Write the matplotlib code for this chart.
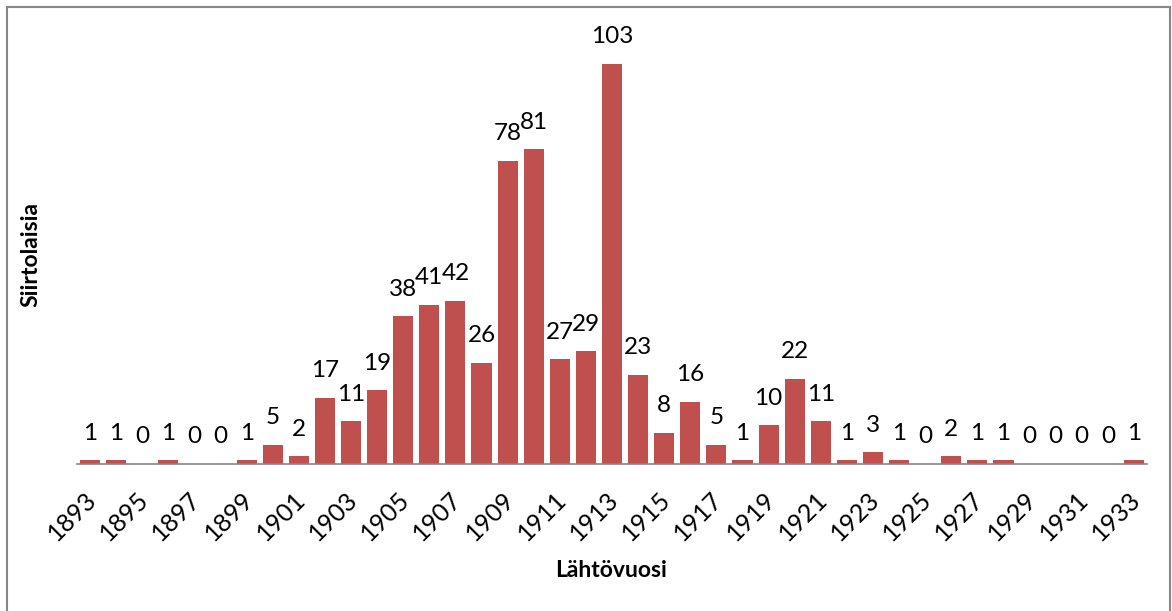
import numpy as np
import matplotlib
matplotlib.use("Agg")
import matplotlib.pyplot as plt
from matplotlib.patches import Rectangle
from matplotlib.transforms import ScaledTranslation

years = list(range(1893, 1934))
counts = [1, 1, 0, 1, 0, 0, 1, 5, 2, 17, 11, 19, 38, 41, 42, 26, 78, 81, 27, 29,
          103, 23, 8, 16, 5, 1, 10, 22, 11, 1, 3, 1, 0, 2, 1, 1, 0, 0, 0, 0, 1]
bar_color = "#C0504D"

plt.rcParams["font.family"] = ["Lato", "DejaVu Sans"]

fig = plt.figure(figsize=(11.72, 6.11), dpi=100)
ax = fig.add_axes([0.0657, 0.2406, 0.913, 0.712])

x = np.arange(len(years))
ax.bar(x, counts, width=0.77, color=bar_color, zorder=2)
for xi, v in zip(x, counts):
    ax.annotate(str(v), (xi, v), xytext=(0, 19.5), textcoords="offset points",
                ha="center", va="center", fontsize=17.5, color="black")

ax.set_xlim(-0.5, len(years) - 0.5)
ax.set_ylim(0, 112)
ax.set_xticks(x[::2])
ax.set_xticklabels([str(y) for y in years[::2]], rotation=45, ha="right",
                   rotation_mode="anchor", fontsize=18)
ax.tick_params(axis="x", length=0, pad=17)
shift = ScaledTranslation(-4 / 72, 0, fig.dpi_scale_trans)
for lbl in ax.get_xticklabels():
    lbl.set_transform(lbl.get_transform() + shift)
ax.set_yticks([])
for s in ["top", "right", "left"]:
    ax.spines[s].set_visible(False)
ax.spines["bottom"].set_color("#868686")
ax.spines["bottom"].set_linewidth(1.2)

fig.text(0.521, 0.0655, "Lähtövuosi", ha="center", va="center",
         fontsize=16.5, fontweight="bold")
fig.text(0.0265, 0.583, "Siirtolaisia", ha="center", va="center",
         fontsize=16.5, fontweight="bold", rotation=90)

fig.patches.append(Rectangle((0.006, -0.05), 0.992, 1.0385, transform=fig.transFigure,
                             fill=False, edgecolor="#868686", linewidth=1.5))

fig.savefig("out.png", dpi=100)
